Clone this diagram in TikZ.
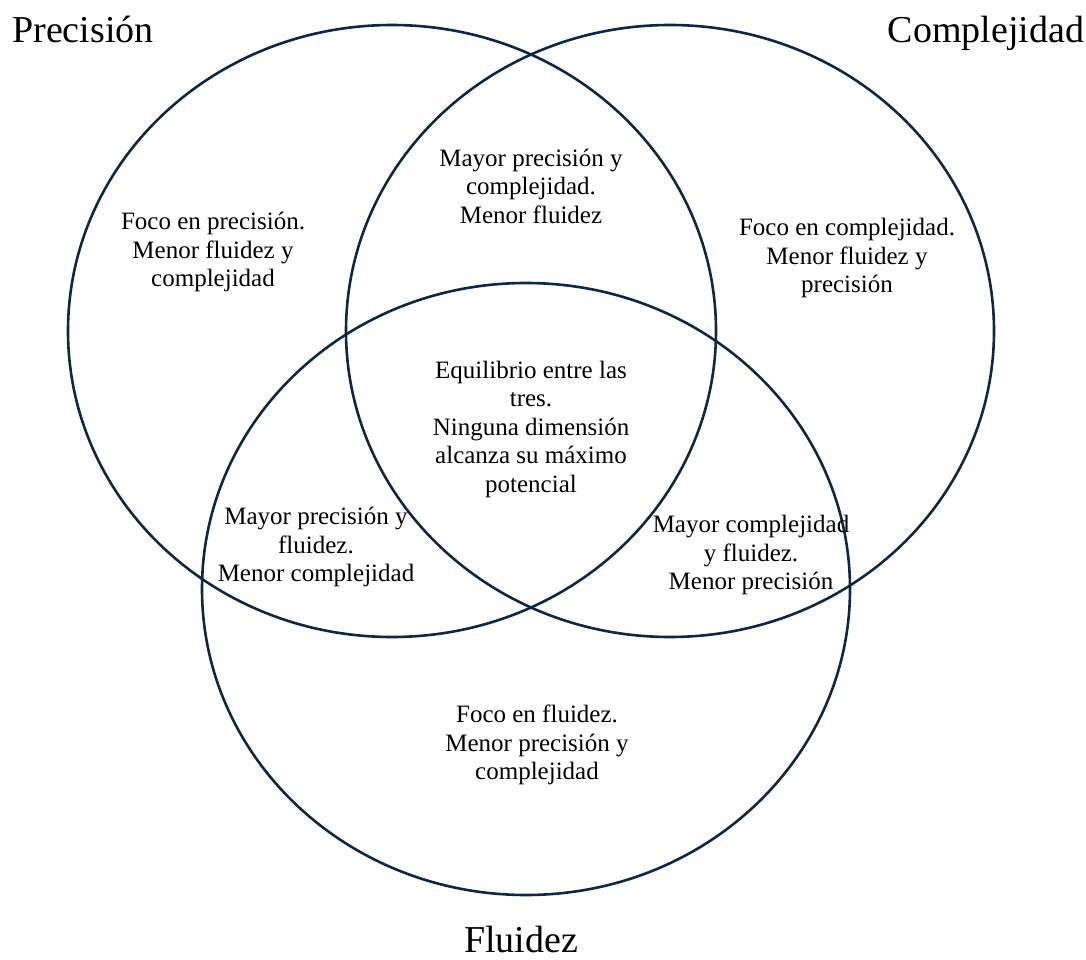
\documentclass[tikz,border=0pt]{standalone}
\usepackage{fontspec}
\setmainfont{Liberation Serif}
\usetikzlibrary{shapes.geometric}
\definecolor{navy}{HTML}{0E2841}
\begin{document}
\begin{tikzpicture}[x=1pt,y=-1pt,
  ring/.style={draw=navy,line width=2.6pt,ellipse,minimum width=648pt,minimum height=612pt,inner sep=0pt,outer sep=0pt},
  region/.style={align=center,font=\fontsize{25}{28.5}\selectfont,inner sep=0pt},
  settitle/.style={font=\fontsize{38}{44}\selectfont,inner sep=0pt,anchor=base}]
\useasboundingbox[fill=white] (0,0) rectangle (1086,960);
\node[ring] (prec) at (392,331) {};
\node[ring] (comp) at (670,331) {};
\node[ring] (flu) at (526,589) {};
\node[settitle] (tprec) at (83,43) {Precisión};
\node[settitle] (tcomp) at (986,43) {Complejidad};
\node[settitle] (tflu) at (521,952) {Fluidez};
\node[region] (r1) at (213,252) {Foco en precisión.\\Menor fluidez y\\complejidad};
\node[region] (r2) at (531,186) {Mayor precisión y\\complejidad.\\Menor fluidez};
\node[region] (r3) at (847,258) {Foco en complejidad.\\Menor fluidez y\\precisión};
\node[region] (r4) at (531,429) {Equilibrio entre las\\tres.\\Ninguna dimensión\\alcanza su máximo\\potencial};
\node[region] (r5) at (316,547) {Mayor precisión y\\fluidez.\\Menor complejidad};
\node[region] (r6) at (751,555) {Mayor complejidad\\y fluidez.\\Menor precisión};
\node[region] (r7) at (537,745) {Foco en fluidez.\\Menor precisión y\\complejidad};
\end{tikzpicture}
\end{document}
